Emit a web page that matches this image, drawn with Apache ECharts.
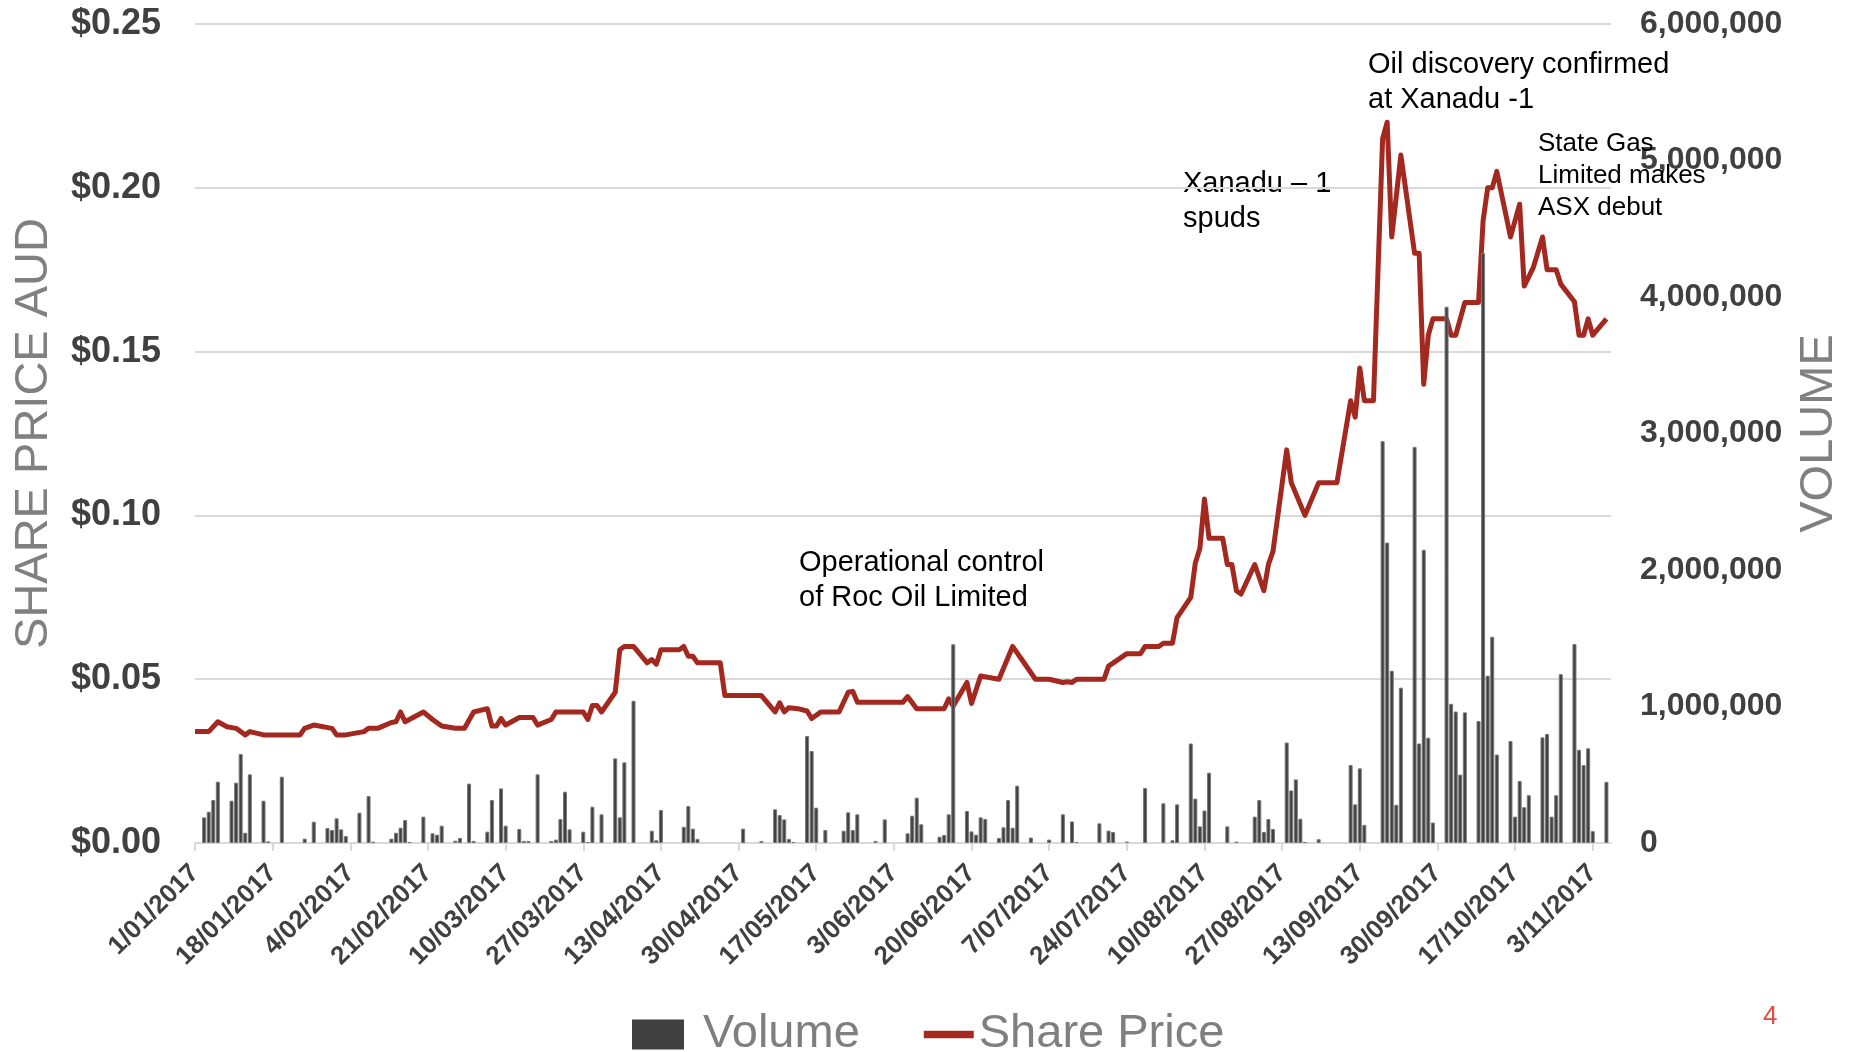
<!DOCTYPE html>
<html>
<head>
<meta charset="utf-8">
<title>Share price and volume 2017</title>
<script src="https://cdn.jsdelivr.net/npm/echarts@6/dist/echarts.min.js"></script>
<style>
  html, body { margin: 0; padding: 0; background: #fff; }
  #chart { width: 1851px; height: 1052px; }
</style>
</head>
<body>
<div id="chart"></div>
<script>
// x axis labels, one every 17 days starting 1 Jan 2017
const dateLabels = ['1/01/2017', '18/01/2017', '4/02/2017', '21/02/2017', '10/03/2017', '27/03/2017',
  '13/04/2017', '30/04/2017', '17/05/2017', '3/06/2017', '20/06/2017', '7/07/2017', '24/07/2017',
  '10/08/2017', '27/08/2017', '13/09/2017', '30/09/2017', '17/10/2017', '3/11/2017'];

// daily volume (d/mm, 2017)
const volumeDates = ['3/01','4/01','5/01','6/01','9/01','10/01','11/01','12/01','13/01','16/01','17/01','20/01',
  '25/01','27/01','30/01','31/01','1/02','2/02','3/02','6/02','8/02','9/02','13/02','14/02','15/02','16/02','17/02',
  '20/02','22/02','23/02','24/02','27/02','28/02','2/03','3/03','6/03','7/03','9/03','10/03','13/03','14/03','15/03',
  '17/03','20/03','21/03','22/03','23/03','24/03','27/03','28/03','29/03','31/03','3/04','4/04','5/04','7/04',
  '11/04','12/04','13/04','18/04','19/04','20/04','21/04','1/05','5/05','8/05','9/05','10/05','11/05','12/05',
  '15/05','16/05','17/05','19/05','23/05','24/05','25/05','26/05','30/05','1/06','6/06','7/06','8/06','9/06',
  '13/06','14/06','15/06','16/06','19/06','20/06','21/06','22/06','23/06','26/06','27/06','28/06','29/06','30/06',
  '3/07','7/07','10/07','12/07','13/07','18/07','20/07','21/07','24/07','28/07','1/08','3/08','4/08','7/08','8/08',
  '9/08','10/08','11/08','15/08','17/08','21/08','22/08','23/08','24/08','25/08','28/08','29/08','30/08','31/08',
  '1/09','4/09','11/09','12/09','13/09','14/09','18/09','19/09','20/09','21/09','22/09','25/09','26/09','27/09',
  '28/09','29/09','2/10','3/10','4/10','5/10','6/10','9/10','10/10','11/10','12/10','13/10','16/10','17/10','18/10',
  '19/10','20/10','23/10','24/10','25/10','26/10','27/10','30/10','31/10','1/11','2/11','3/11','6/11'];
const volumeValues = [188000,229000,315000,449000,310000,442000,652000,75000,503000,310000,12000,486000,
  32000,156000,110000,95000,181000,100000,51000,222000,344000,10000,32000,75000,112000,168000,8000,
  193000,71000,61000,127000,17000,37000,435000,15000,83000,315000,400000,127000,103000,15000,15000,
  503000,15000,25000,176000,376000,100000,83000,8000,266000,210000,620000,188000,591000,1042000,
  90000,20000,242000,119000,271000,105000,30000,105000,15000,247000,205000,173000,30000,8000,
  784000,674000,259000,95000,90000,225000,95000,210000,15000,173000,71000,200000,332000,137000,
  46000,59000,210000,1456000,234000,85000,61000,188000,176000,37000,115000,315000,112000,420000,
  40000,25000,210000,158000,8000,144000,91000,81000,10000,403000,291000,20000,283000,729000,325000,
  122000,238000,515000,122000,10000,193000,315000,81000,176000,103000,736000,385000,466000,178000,
  8000,28000,571000,283000,547000,133000,2944000,2201000,1262000,280000,1138000,2902000,729000,2148000,
  771000,150000,3929000,1020000,963000,501000,957000,894000,4322000,1226000,1511000,648000,747000,193000,455000,
  262000,350000,774000,799000,193000,350000,1237000,1458000,683000,571000,694000,87000,448000];

// share price (AUD) at the turning points of the line
const priceDates = ['1/01','4/01','6/01','8/01','10/01','12/01','13/01','16/01','24/01','25/01','27/01','31/01',
  '1/02','3/02','7/02','8/02','10/02','13/02','14/02','15/02','16/02','20/02','22/02','24/02','27/02','1/03',
  '3/03','6/03','7/03','8/03','9/03','10/03','13/03','16/03','17/03','20/03','21/03','27/03','28/03','29/03',
  '30/03','31/03','3/04','4/04','5/04','7/04','10/04','11/04','12/04','13/04','17/04','18/04','19/04','20/04',
  '21/04','26/04','27/04','5/05','8/05','9/05','10/05','11/05','13/05','15/05','16/05','18/05','22/05','24/05',
  '25/05','26/05','5/06','6/06','8/06','14/06','15/06','16/06','19/06','20/06','22/06','26/06','29/06','1/07',
  '4/07','7/07','10/07','11/07','12/07','13/07','19/07','20/07','24/07','27/07','28/07','31/07','1/08','3/08',
  '4/08','7/08','8/08','9/08','10/08','11/08','14/08','15/08','16/08','17/08','18/08','21/08','23/08','24/08',
  '25/08','28/08','29/08','1/09','4/09','8/09','11/09','12/09','13/09','14/09','16/09','18/09','19/09','20/09',
  '22/09','25/09','26/09','27/09','28/09','29/09','2/10','3/10','4/10','6/10','9/10','10/10','11/10','12/10',
  '13/10','16/10','18/10','19/10','21/10','23/10','24/10','26/10','27/10','30/10','31/10','1/11','2/11','3/11','6/11'];
const priceValues = [0.034,0.034,0.037,0.0355,0.035,0.033,0.034,0.033,0.033,0.035,0.036,0.035,
  0.033,0.033,0.034,0.035,0.035,0.0368,0.037,0.040,0.037,0.040,0.0377,0.0357,0.035,0.035,
  0.040,0.041,0.0357,0.0357,0.038,0.036,0.0383,0.0383,0.036,0.0377,0.040,0.040,0.0377,0.042,
  0.042,0.040,0.046,0.059,0.060,0.060,0.055,0.056,0.0546,0.059,0.059,0.060,0.057,0.057,
  0.055,0.055,0.045,0.045,0.040,0.0428,0.040,0.0413,0.041,0.0403,0.038,0.040,0.040,0.046,
  0.0463,0.043,0.043,0.0447,0.041,0.041,0.044,0.0418,0.049,0.0426,0.051,0.050,0.060,0.056,
  0.050,0.050,0.049,0.0492,0.049,0.050,0.050,0.054,0.0578,0.0578,0.060,0.060,0.061,0.061,
  0.0688,0.075,0.0855,0.090,0.105,0.093,0.093,0.085,0.085,0.077,0.076,0.085,0.077,0.085,
  0.089,0.120,0.110,0.100,0.110,0.110,0.135,0.130,0.145,0.135,0.135,0.215,0.220,0.185,
  0.210,0.180,0.180,0.140,0.155,0.160,0.160,0.155,0.155,0.165,0.165,0.190,0.200,0.200,
  0.205,0.185,0.195,0.170,0.1757,0.185,0.175,0.175,0.1706,0.1652,0.155,0.155,0.160,0.155,0.160];

const START = Date.UTC(2017, 0, 1);
function dayOf(s) {
  const p = s.split('/').map(Number);
  return (Date.UTC(2017, p[1] - 1, p[0]) - START) / 864e5;
}

const volumeData = volumeDates.map((d, i) => [dayOf(d), volumeValues[i]]);
const priceData = priceDates.map((d, i) => [dayOf(d), priceValues[i]]);

const FONT = 'Liberation Sans, Arial, sans-serif';
const RED = '#a3281f';
const chart = echarts.init(document.getElementById('chart'));

const option = {
  animation: false,
  backgroundColor: '#ffffff',
  grid: { left: 195, right: 240, top: 24, bottom: 209 },
  legend: {
    left: 632,
    top: 1011,
    padding: 0,
    itemGap: 64,
    itemWidth: 50,
    itemHeight: 28,
    textStyle: { fontFamily: FONT, fontSize: 47, color: '#7f7f7f' },
    data: [
      { name: 'Volume', icon: 'rect', itemStyle: { color: '#404040', borderColor: '#404040' },
        textStyle: { padding: [0, 0, 0, 15] } },
      { name: 'Share Price', icon: 'path://M0,0 L54,0 L54,8 L0,8 Z',
        itemStyle: { color: RED, borderWidth: 0 } }
    ]
  },
  xAxis: {
    type: 'value',
    min: 0,
    max: 310,
    interval: 17,
    axisLine: { show: true, lineStyle: { color: '#d9d9d9', width: 2 } },
    axisTick: { show: true, length: 8, lineStyle: { color: '#d9d9d9', width: 2 } },
    splitLine: { show: false },
    axisLabel: {
      rotate: 45,
      margin: 26,
      showMaxLabel: false,
      fontFamily: FONT,
      fontSize: 26,
      fontWeight: 'bold',
      color: '#404040',
      formatter: function (v) {
        return v % 17 === 0 ? (dateLabels[v / 17] || '') : '';
      }
    }
  },
  yAxis: [
    {
      type: 'value',
      min: 0,
      max: 0.25,
      interval: 0.05,
      name: 'SHARE PRICE AUD',
      nameLocation: 'middle',
      nameRotate: 90,
      nameGap: 137,
      nameTextStyle: { fontFamily: FONT, fontSize: 47, color: '#808080' },
      axisLine: { show: false },
      axisTick: { show: false },
      splitLine: { show: true, lineStyle: { color: '#d9d9d9', width: 2 } },
      axisLabel: {
        margin: 34,
        fontFamily: FONT,
        fontSize: 36,
        fontWeight: 'bold',
        color: '#404040',
        formatter: v => '$' + v.toFixed(2)
      }
    },
    {
      type: 'value',
      min: 0,
      max: 6000000,
      interval: 1000000,
      name: 'VOLUME',
      nameLocation: 'middle',
      nameRotate: 90,
      nameGap: 185,
      nameTextStyle: { fontFamily: FONT, fontSize: 47, color: '#808080' },
      axisLine: { show: false },
      axisTick: { show: false },
      splitLine: { show: false },
      axisLabel: {
        margin: 29,
        fontFamily: FONT,
        fontSize: 32,
        fontWeight: 'bold',
        color: '#404040',
        formatter: v => v.toLocaleString('en-US')
      }
    }
  ],
  series: [
    {
      name: 'Volume',
      type: 'bar',
      yAxisIndex: 1,
      barWidth: 4,
      z: 3,
      itemStyle: { color: '#404040', borderColor: '#7a7a7a', borderWidth: 1 },
      data: volumeData
    },
    {
      name: 'Share Price',
      type: 'line',
      yAxisIndex: 0,
      z: 2,
      symbol: 'none',
      showSymbol: false,
      itemStyle: { color: RED },
      lineStyle: { color: RED, width: 5, join: 'round' },
      data: priceData
    }
  ],
  graphic: [
    {
      type: 'text', left: 799, top: 545,
      style: { text: 'Operational control\nof Roc Oil Limited', font: '29px ' + FONT, fill: '#000', lineHeight: 35 }
    },
    {
      type: 'text', left: 1183, top: 166,
      style: { text: 'Xanadu \u2013 1\nspuds', font: '29px ' + FONT, fill: '#000', lineHeight: 35 }
    },
    {
      type: 'text', left: 1368, top: 47,
      style: { text: 'Oil discovery confirmed\nat Xanadu -1', font: '29px ' + FONT, fill: '#000', lineHeight: 35 }
    },
    {
      type: 'text', left: 1538, top: 128, z: 100,
      style: { text: 'State Gas\nLimited makes\nASX debut', font: '26px ' + FONT, fill: '#000', lineHeight: 32 }
    },
    {
      type: 'text', left: 1763, top: 1004,
      style: { text: '4', font: '26px ' + FONT, fill: '#e04a3f' }
    }
  ]
};

chart.setOption(option);
</script>
</body>
</html>
